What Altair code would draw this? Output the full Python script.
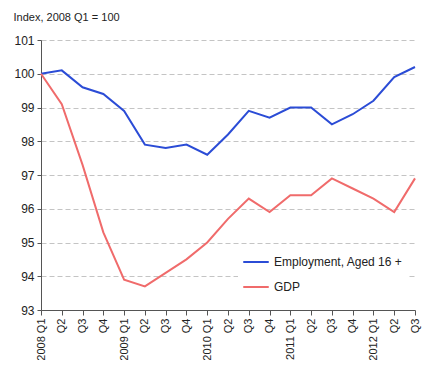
import altair as alt
import pandas as pd

quarters = ["2008 Q1", "2008 Q2", "2008 Q3", "2008 Q4",
            "2009 Q1", "2009 Q2", "2009 Q3", "2009 Q4",
            "2010 Q1", "2010 Q2", "2010 Q3", "2010 Q4",
            "2011 Q1", "2011 Q2", "2011 Q3", "2011 Q4",
            "2012 Q1", "2012 Q2", "2012 Q3"]
employment = [100.0, 100.1, 99.6, 99.4, 98.9, 97.9, 97.8, 97.9, 97.6, 98.2,
              98.9, 98.7, 99.0, 99.0, 98.5, 98.8, 99.2, 99.9, 100.2]
gdp = [100.0, 99.1, 97.3, 95.3, 93.9, 93.7, 94.1, 94.5, 95.0, 95.7,
       96.3, 95.9, 96.4, 96.4, 96.9, 96.6, 96.3, 95.9, 96.9]
series_names = ["Employment, Aged 16 +", "GDP"]
series_colors = ["#2b4cd6", "#f06b6b"]

rows = []
for i, q in enumerate(quarters):
    rows.append({"quarter": q, "series": series_names[0], "value": employment[i], "order": i})
    rows.append({"quarter": q, "series": series_names[1], "value": gdp[i], "order": i})
df = pd.DataFrame(rows)

chart = alt.Chart(df).mark_line(strokeWidth=2).encode(
    x=alt.X("quarter:N", sort=quarters,
            scale=alt.Scale(type="point", padding=0),
            axis=alt.Axis(title=None, labelAngle=270, labelAlign="right", labelBaseline="middle",
                          labelFontSize=11, labelColor="#222", labelFont="Liberation Sans",
                          labelExpr="indexof(datum.value, 'Q1') >= 0 ? datum.value : substring(datum.value, 5)",
                          domainColor="#555", tickColor="#555", tickSize=5, labelPadding=3,
                          grid=False, labelOverlap=False)),
    y=alt.Y("value:Q", scale=alt.Scale(domain=[93, 101], nice=False, zero=False),
            axis=alt.Axis(title="Index, 2008 Q1 = 100", titleAngle=0, titleAlign="left",
                          titleBaseline="middle", titleX=-28, titleY=-23,
                          titleFontSize=11, titleFontWeight="normal", titleColor="#222",
                          titleFont="Liberation Sans",
                          values=list(range(93, 102)), format="d",
                          labelFontSize=12, labelColor="#222", labelFont="Liberation Sans",
                          domainColor="#555", tickColor="#555", tickSize=4, labelPadding=3,
                          gridColor="#c4c4c4", gridDash=[5, 3], gridWidth=1)),
    color=alt.Color("series:N", sort=series_names,
                    scale=alt.Scale(domain=series_names, range=series_colors),
                    legend=alt.Legend(title=None, orient="none", legendX=197, legendY=204,
                                      symbolType="stroke", symbolSize=650, symbolStrokeWidth=2,
                                      labelFontSize=12, labelFont="Liberation Sans", labelColor="#222",
                                      rowPadding=5, fillColor="white", padding=4)),
    order="order:Q"
).properties(
    width=374, height=270,
    autosize=alt.AutoSizeParams(type="none"),
    padding={"left": 33, "top": 32, "right": 10, "bottom": 50}
).configure_view(stroke=None)

chart.save("out.html", embed_options={"renderer": "svg", "actions": False})
